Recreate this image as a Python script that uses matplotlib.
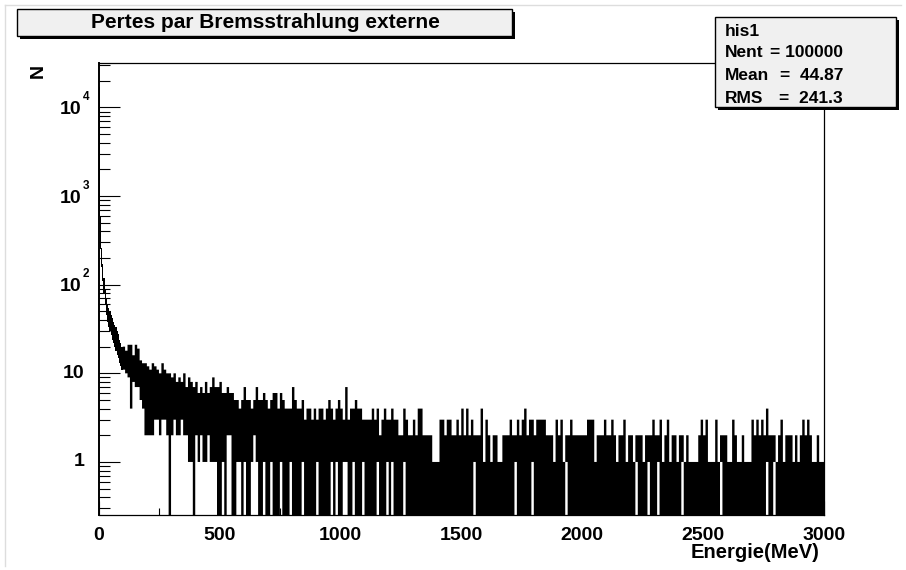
import numpy as np
import matplotlib
matplotlib.use("Agg")
import matplotlib.pyplot as plt
from matplotlib.patches import Rectangle
from matplotlib.lines import Line2D
from matplotlib.ticker import FixedLocator, NullFormatter

FONT = ["Liberation Sans", "DejaVu Sans"]

# ---- data: per-segment max / min bin content -------------------------------------------------
# 0-100 MeV in 5 MeV segments (steep head)
head_hi = [17000, 600, 260, 170, 120, 90, 70, 60, 55, 50, 45, 42, 38, 35, 33, 30, 28, 24, 22, 20]
head_lo = [600, 250, 160, 110, 80, 60, 45, 38, 33, 30, 27, 24, 22, 20, 18, 16, 15, 13, 12, 11]

# 100-3000 MeV in 10 MeV segments (0 = an empty bin in the segment)
hi_100 = [20, 18, 21, 21, 16, 21, 19, 14, 13, 13, 12, 11, 13, 12, 11, 10, 13, 11, 10, 10,
          9, 10, 8, 9, 8, 10, 7, 9, 8, 7, 8, 6, 7, 6, 8, 6, 7, 9, 7, 7]
lo_100 = [11, 10, 9, 4, 8, 7, 7, 5, 4, 2, 2, 2, 2, 3, 3, 2, 3, 3, 2, 0,
          2, 3, 2, 2, 3, 2, 2, 1, 1, 0, 2, 1, 2, 1, 1, 2, 1, 1, 1, 0]
hi_500 = [8, 6, 6, 7, 6, 6, 5, 5, 4, 5, 7, 5, 5, 4, 5, 7, 5, 5, 6, 5,
          4, 5, 6, 6, 4, 6, 5, 4, 4, 4, 7, 5, 4, 4, 5, 3, 4, 4, 3, 4,
          3, 4, 4, 3, 4, 5, 4, 3, 4, 5]
lo_500 = [0, 1, 0, 2, 2, 0, 0, 1, 1, 0, 1, 0, 0, 1, 2, 1, 0, 0, 1, 0,
          0, 1, 0, 0, 0, 1, 0, 0, 0, 1, 0, 0, 0, 0, 1, 0, 0, 0, 0, 0,
          1, 0, 0, 0, 0, 0, 1, 0, 1, 0]
hi_1000 = [4, 3, 7, 3, 4, 4, 5, 4, 4, 3, 3, 3, 3, 4, 3, 4, 2, 3, 4, 3,
           3, 4, 3, 3, 2, 2, 4, 3, 2, 2, 3, 2, 4, 4, 2, 2, 2, 2, 1, 1,
           1, 3, 3, 2, 3, 3, 2, 2, 3, 2]
lo_1000 = [0, 1, 1, 0, 0, 1, 0, 0, 0, 1, 0, 0, 0, 0, 0, 1, 0, 0, 0, 1,
           0, 1, 0, 0, 0, 0, 1, 0, 0, 0, 0, 0, 0, 0, 0, 0, 0, 0, 0, 0,
           0, 0, 0, 0, 0, 0, 0, 0, 0, 0]
hi_1500 = [4, 2, 4, 2, 3, 2, 2, 2, 4, 1, 3, 2, 1, 2, 2, 1, 1, 2, 2, 2,
           3, 2, 2, 3, 2, 3, 4, 2, 3, 3, 2, 3, 3, 3, 3, 2, 2, 2, 1, 3,
           2, 3, 1, 2, 2, 3, 2, 2, 2, 2]
lo_1500 = [0, 0, 0, 0, 0, 1, 0, 0, 0, 0, 0, 0, 0, 0, 0, 0, 0, 0, 0, 0,
           0, 0, 1, 0, 0, 0, 0, 0, 0, 1, 0, 0, 0, 0, 0, 0, 0, 0, 0, 0,
           0, 0, 0, 1, 0, 0, 0, 0, 0, 0]
hi_2000 = [2, 2, 3, 3, 3, 1, 2, 2, 2, 3, 2, 2, 3, 2, 1, 2, 2, 3, 1, 2,
           2, 1, 2, 2, 2, 1, 2, 2, 2, 3, 2, 2, 3, 1, 2, 3, 1, 2, 2, 1,
           2, 2, 1, 2, 1, 1, 1, 1, 2, 3]
lo_2000 = [0, 0, 0, 0, 0, 0, 0, 0, 0, 0, 0, 0, 0, 0, 0, 0, 0, 0, 0, 0,
           0, 0, 1, 0, 0, 0, 0, 1, 0, 0, 0, 1, 0, 0, 0, 0, 0, 0, 0, 0,
           0, 1, 0, 0, 0, 0, 0, 0, 0, 0]
hi_2500 = [2, 3, 1, 1, 1, 3, 1, 2, 2, 2, 1, 1, 3, 2, 1, 1, 2, 1, 1, 1,
           3, 2, 3, 2, 3, 2, 4, 2, 2, 2, 1, 2, 3, 1, 2, 2, 2, 1, 2, 1,
           2, 3, 2, 3, 2, 1, 1, 2, 1, 1]
lo_2500 = [0, 0, 0, 0, 0, 0, 0, 1, 0, 0, 0, 0, 0, 0, 0, 0, 0, 0, 0, 0,
           0, 0, 0, 0, 0, 0, 1, 0, 0, 1, 0, 0, 0, 0, 0, 0, 0, 0, 0, 0,
           0, 0, 0, 0, 0, 0, 0, 0, 0, 0]

xticks = [0, 500, 1000, 1500, 2000, 2500, 3000]
ytick_vals = [1, 10, 100, 1000, 10000]
ytick_base = ["1", "10", "10", "10", "10"]
ytick_sup = ["", "", "2", "3", "4"]

title = "Pertes par Bremsstrahlung externe"
stats = [("his1", ""), ("Nent", "= 100000"), ("Mean", "=  44.87"), ("RMS", "=  241.3")]

# ---- figure ------------------------------------------------------------------------------------
W, H = 906, 570


def fx(x):
    return x / W


def fy(y):
    return 1 - y / H


fig = plt.figure(figsize=(W / 100, H / 100), dpi=100)
fig.patch.set_facecolor("white")
ax = fig.add_axes([fx(98.5), fy(515), (824 - 98.5) / W, (515 - 62.7) / H])
ax.set_yscale("log")

hi = np.array(hi_100 + hi_500 + hi_1000 + hi_1500 + hi_2000 + hi_2500, float)
lo = np.array(lo_100 + lo_500 + lo_1000 + lo_1500 + lo_2000 + lo_2500, float)
lo = np.where(lo > 0, lo, 0.05)                                   # empty bin -> below the axis
ax.stairs(head_hi, np.arange(0, 101, 5), baseline=head_lo, fill=True, color="black", lw=0.5)
ax.stairs(hi, np.arange(100, 3001, 10), baseline=lo, fill=True, color="black", lw=0.5)

ax.set_xlim(0, 3000)
ax.set_ylim(0.252, 32000)

ax.xaxis.set_major_locator(FixedLocator(xticks))
ax.xaxis.set_minor_locator(FixedLocator(np.arange(250, 3000, 500)))
ax.set_xticklabels([str(t) for t in xticks], fontsize=14, fontweight="bold", family=FONT)
ax.yaxis.set_major_locator(FixedLocator(ytick_vals))
ax.yaxis.set_minor_locator(FixedLocator([m * 10.0 ** k for k in range(-1, 5) for m in range(2, 10)]))
ax.yaxis.set_major_formatter(NullFormatter())
ax.yaxis.set_minor_formatter(NullFormatter())
ax.tick_params(axis="x", which="major", direction="in", length=9.8, width=0.8, pad=9, top=False)
ax.tick_params(axis="x", which="minor", direction="in", length=4.9, width=0.8, top=False)
ax.tick_params(axis="y", which="major", direction="in", length=15, width=0.8, right=False)
ax.tick_params(axis="y", which="minor", direction="in", length=7.6, width=0.8, right=False)
for s in ["top", "right", "bottom"]:
    ax.spines[s].set_linewidth(0.9)
ax.spines["left"].set_linewidth(1.4)

for v, b, s in zip(ytick_vals, ytick_base, ytick_sup):
    if s:
        ax.annotate(b, xy=(0, v), xycoords=("axes fraction", "data"), xytext=(-12, -1.5),
                    textcoords="offset points", ha="right", va="center",
                    fontsize=14, fontweight="bold", family=FONT)
        ax.annotate(s, xy=(0, v), xycoords=("axes fraction", "data"), xytext=(-11.5, 7.5),
                    textcoords="offset points", ha="left", va="center",
                    fontsize=8.5, fontweight="bold", family=FONT)
    else:
        ax.annotate(b, xy=(0, v), xycoords=("axes fraction", "data"), xytext=(-10, 0),
                    textcoords="offset points", ha="right", va="center",
                    fontsize=14, fontweight="bold", family=FONT)

fig.text(fx(820), fy(552), "Energie(MeV)", ha="right", va="center",
         fontsize=14.5, fontweight="bold", family=FONT)
fig.text(fx(38), fy(71), "N", ha="center", va="center", rotation=90,
         fontsize=14, fontweight="bold", family=FONT)

# canvas border
fig.add_artist(Line2D([fx(5), fx(901)], [fy(5), fy(5)], transform=fig.transFigure, color="#dddddd", lw=1))
fig.add_artist(Line2D([fx(5), fx(5)], [fy(5), fy(566)], transform=fig.transFigure, color="#dddddd", lw=1))


def box(x0, y0, x1, y1):
    fig.add_artist(Rectangle((fx(x0 + 3), fy(y1 + 3)), (x1 - x0) / W, (y1 - y0) / H,
                             transform=fig.transFigure, facecolor="black", edgecolor="none", zorder=5))
    fig.add_artist(Rectangle((fx(x0), fy(y1)), (x1 - x0) / W, (y1 - y0) / H,
                             transform=fig.transFigure, facecolor="#f0f0f0", edgecolor="black",
                             lw=1, zorder=6))


box(17, 9, 512, 36)
fig.text(fx(265), fy(23), title, ha="center", va="center", fontsize=15,
         fontweight="bold", family=FONT, zorder=7)

box(715, 17, 896, 107)
for (name, val), yy in zip(stats, [31, 52.5, 75, 98.5]):
    fig.text(fx(725), fy(yy), name, ha="left", va="center", fontsize=12.5,
             fontweight="bold", family=FONT, zorder=7)
    if val:
        fig.text(fx(843), fy(yy), val, ha="right", va="center", fontsize=12.5,
                 fontweight="bold", family=FONT, zorder=7)

fig.savefig("out.png", dpi=100)
